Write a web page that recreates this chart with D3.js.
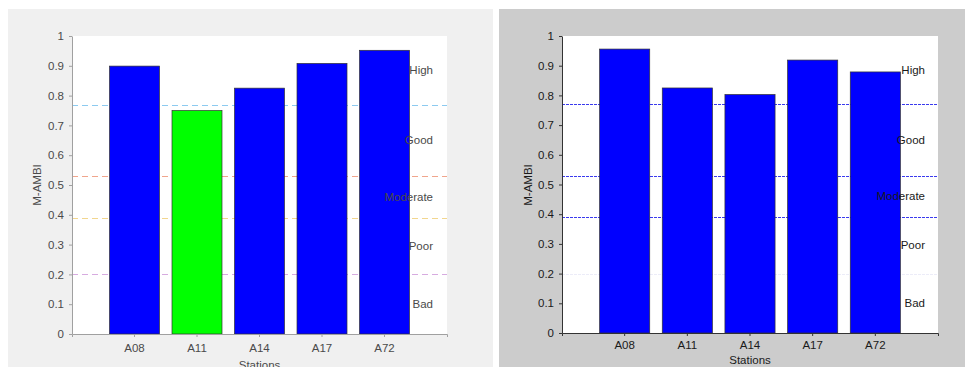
<!DOCTYPE html>
<html><head><meta charset="utf-8">
<script src="https://cdn.jsdelivr.net/npm/d3@7"></script>
<style>
html,body{margin:0;padding:0;background:#fff;}
svg{display:block;font-family:"Liberation Sans",Arial,sans-serif;}
</style></head>
<body>
<svg id="chart" width="965" height="367"></svg>
<script>
// ---- data ----
const stations = ["A08", "A11", "A14", "A17", "A72"];
const valuesLeft = [0.899, 0.750, 0.825, 0.908, 0.952];
const valuesRight = [0.956, 0.825, 0.803, 0.919, 0.879];
const thresholds = [0.77, 0.53, 0.39, 0.20];
const classNames = ["High", "Good", "Moderate", "Poor", "Bad"];
const yTicks = [0, 0.1, 0.2, 0.3, 0.4, 0.5, 0.6, 0.7, 0.8, 0.9, 1];

const svg = d3.select("#chart");
const FS = 11.5;

const panels = [
  {values: valuesLeft, bg: [8, 9, 485, 358], bgColor: "#f0f0f0",
   x0: 72, x1: 447, yTop: 36, yBot: 334, text: "#4a4a4a", axis: "#a0a0a0",
   lineColors: ["#8ccaf0", "#f0a58c", "#f2d68e", "#d7abe0"], dash: "6,4", lw: 1.2,
   classColors: {High: "#0000ff", Good: "#00ff00"},
   tickBase: 352, xTitleBase: 369, yTitleX: 37, labelRight: 433},
  {values: valuesRight, bg: [499, 9, 466, 358], bgColor: "#cccccc",
   x0: 562, x1: 938, yTop: 36, yBot: 333, text: "#1a1a1a", axis: "#333",
   lineColors: ["#3a3aee", "#3a3aee", "#3a3aee", "#ececf8"], dash: "3,1", lw: 1,
   classColors: {High: "#0000ff", Good: "#0000ff"},
   tickBase: 349, xTitleBase: 364, yTitleX: 528, labelRight: 925}
];

function classOf(v) {
  let i = 0;
  while (i < thresholds.length && v < thresholds[i]) i++;
  return classNames[i];
}

panels.forEach(p => {
  const g = svg.append("g");
  g.append("rect").attr("x", p.bg[0]).attr("y", p.bg[1]).attr("width", p.bg[2]).attr("height", p.bg[3]).attr("fill", p.bgColor);

  const x = d3.scaleBand().domain(stations).range([p.x0, p.x1]).paddingInner(0.2).paddingOuter(0.6);
  const y = d3.scaleLinear().domain([0, 1]).range([p.yBot, p.yTop]);

  g.append("rect").attr("x", p.x0).attr("y", p.yTop).attr("width", p.x1 - p.x0).attr("height", p.yBot - p.yTop).attr("fill", "#fff");

  // threshold lines
  g.selectAll("line.th").data(thresholds).join("line")
    .attr("x1", p.x0).attr("x2", p.x1)
    .attr("y1", d => Math.round(y(d)) + 0.5).attr("y2", d => Math.round(y(d)) + 0.5)
    .attr("stroke", (d, i) => p.lineColors[i]).attr("stroke-width", p.lw)
    .attr("stroke-dasharray", p.dash);

  // bars
  g.selectAll("rect.bar").data(stations).join("rect")
    .attr("x", d => x(d)).attr("width", x.bandwidth())
    .attr("y", (d, i) => y(p.values[i])).attr("height", (d, i) => y(0) - y(p.values[i]))
    .attr("fill", (d, i) => p.classColors[classOf(p.values[i])])
    .attr("stroke", "#333").attr("stroke-width", 0.7);

  // class labels
  const bounds = [1].concat(thresholds).concat([0]);
  g.selectAll("text.cls").data(classNames).join("text")
    .attr("x", p.labelRight)
    .attr("y", (d, i) => y((bounds[i] + bounds[i + 1]) / 2))
    .attr("dy", "0.35em").attr("text-anchor", "end")
    .attr("font-size", FS).attr("fill", p.text).text(d => d);

  // axes
  const ya = g.append("g").attr("transform", `translate(${p.x0},0)`)
    .call(d3.axisLeft(y).tickValues(yTicks).tickFormat(d3.format("")).tickSize(3).tickSizeOuter(0).tickPadding(5));
  const xa = g.append("g").attr("transform", `translate(0,${p.yBot})`)
    .call(d3.axisBottom(x).tickSize(3).tickSizeOuter(3).tickPadding(6));
  [ya, xa].forEach(a => {
    a.selectAll("path,line").attr("stroke", p.axis);
    a.selectAll("text").attr("fill", p.text).attr("font-size", FS).attr("font-family", "Liberation Sans, Arial, sans-serif");
  });
  xa.selectAll("text").attr("dy", null).attr("y", p.tickBase - p.yBot);

  g.append("text").attr("x", (p.x0 + p.x1) / 2).attr("y", p.xTitleBase)
    .attr("text-anchor", "middle").attr("font-size", FS).attr("fill", p.text).text("Stations");
  g.append("text").attr("transform", `translate(${p.yTitleX},185) rotate(-90)`)
    .attr("text-anchor", "middle").attr("dy", "0.35em").attr("font-size", FS).attr("fill", p.text).text("M-AMBI");
});
</script>
</body></html>
